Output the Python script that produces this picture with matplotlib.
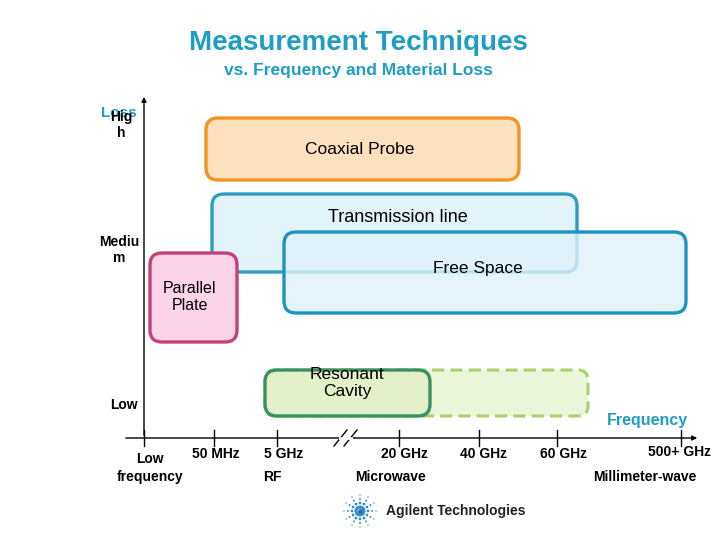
import numpy as np
import matplotlib
matplotlib.use("Agg")
import matplotlib.pyplot as plt
from matplotlib.patches import FancyBboxPatch
from matplotlib.colors import to_rgba

plt.rcParams['font.family'] = ['Liberation Sans', 'DejaVu Sans']

# === Data (axis units: frequency position along x, material loss along y) ===
techniques = ["Coaxial Probe", "Transmission line", "Free Space", "Parallel\nPlate", "Resonant\nCavity"]
f_start = [62, 68, 140, 6, 121]
f_end = [375, 433, 542, 93, 286]
loss_low = [258, 166, 125, 96, 22]
loss_high = [320, 244, 206, 185, 68]
label_xy = [(216, 289), (254, 221), (334, 169), (46, 141), (203, 55)]
label_size = [12.5, 13, 12.5, 11.5, 12.5]
edge_colors = ['#f39320', '#2f9cc2', '#1a94c0', '#c2417a', '#3a9160']
fill_colors = ['#fde0bd', '#e3f3fa', '#e0f1f9', '#fbd4ea', '#e3f0c8']
fill_alpha = [1, 1, 0.8, 1, 1]

# resonant cavity possible extension (dashed)
cavity_ext_end = 444

freq_ticks = [0, 70, 133, 255, 335, 413, 537]
freq_labels = ["", "50 MHz", "5 GHz", "20 GHz", "40 GHz", "60 GHz", "500+ GHz"]
freq_label_x = [0, 72, 140, 260, 339, 419, 536]
band_labels = ["Low\nfrequency", "RF", "Microwave", "Millimeter-wave"]
band_x = [6, 128, 247, 501]

loss_labels = ["Hig\nh", "Mediu\nm", "Low"]
loss_pos = [313, 188, 33]
loss_label_x = [-23, -25, -20]

teal = '#1f9dc4'

fig = plt.figure(figsize=(7.2, 5.4), dpi=100)
ax = fig.add_axes([0, 0, 1, 1])
ax.set_xlim(-144, 576)
ax.set_ylim(-102, 438)
ax.axis('off')

# title
ax.text(214, 395, "Measurement Techniques", ha='center', va='center',
        fontsize=20, fontweight='bold', color=teal)
ax.text(214, 368, "vs. Frequency and Material Loss", ha='center', va='center',
        fontsize=12.5, fontweight='bold', color=teal)

# axes with arrows
ax.annotate("", xy=(556, 0), xytext=(-21, 0),
            arrowprops=dict(arrowstyle='-|>', color='black', lw=1, mutation_scale=7))
ax.annotate("", xy=(0, 344), xytext=(0, 0),
            arrowprops=dict(arrowstyle='-|>', color='black', lw=1, mutation_scale=7))
for t in freq_ticks:
    ax.plot([t, t], [-8, 8], color='black', lw=1)

# axis break marks
for dx in [0, 10]:
    ax.plot([190 + dx, 203 + dx], [-8, 8], color='black', lw=1)
ax.plot([196, 207], [0, 0], color='white', lw=2, zorder=3)

# boxes
for i in range(len(techniques)):
    if i == 4:
        ext = FancyBboxPatch((f_start[i], loss_low[i]), cavity_ext_end - f_start[i],
                             loss_high[i] - loss_low[i],
                             boxstyle="round,pad=0,rounding_size=10",
                             facecolor='#ebf5d9', edgecolor='#a9d06c', lw=2.2,
                             linestyle=(0, (4, 2)), zorder=4)
        ax.add_patch(ext)
    box = FancyBboxPatch((f_start[i], loss_low[i]), f_end[i] - f_start[i],
                         loss_high[i] - loss_low[i],
                         boxstyle="round,pad=0,rounding_size=12",
                         facecolor=to_rgba(fill_colors[i], fill_alpha[i]),
                         edgecolor=edge_colors[i], lw=2.4, zorder=2 + i)
    ax.add_patch(box)
    ax.text(label_xy[i][0], label_xy[i][1], techniques[i], ha='center', va='center',
            fontsize=label_size[i], color='black', linespacing=1.1, zorder=10)

# loss labels ("Loss" sits under "High" as in the original slide)
ax.text(-7, 325, "Loss", ha='right', va='center', fontsize=11, fontweight='bold', color=teal)
for lab, p, x in zip(loss_labels, loss_pos, loss_label_x):
    ax.text(x, p, lab, ha='center', va='center', fontsize=10, fontweight='bold',
            linespacing=1.1)

# frequency labels
ax.text(503, 17, "Frequency", ha='center', va='center', fontsize=11.5, fontweight='bold', color=teal)
for lab, x in zip(freq_labels, freq_label_x):
    ax.text(x, -16 if lab != "500+ GHz" else -14, lab, ha='center', va='center',
            fontsize=10, fontweight='bold')
for lab, x in zip(band_labels, band_x):
    ax.text(x, -30 if lab.startswith("Low") else -39, lab, ha='center', va='center',
            fontsize=10, fontweight='bold', linespacing=1.3)

# Agilent logo
cx, cy = 216, -73
for ang in np.arange(0, 360, 30):
    r = np.array([4, 8, 12, 16])
    ax.scatter(cx + r * np.cos(np.radians(ang)), cy + r * np.sin(np.radians(ang)),
               s=[6, 4, 2, 1], color='#3a8fc8', lw=0)
ax.scatter([cx], [cy], s=12, color='#1a6fb0', lw=0)
ax.text(242, -73, "Agilent Technologies", ha='left', va='center', fontsize=10,
        fontweight='bold', color='#222222')

plt.savefig("out.png", dpi=100)
